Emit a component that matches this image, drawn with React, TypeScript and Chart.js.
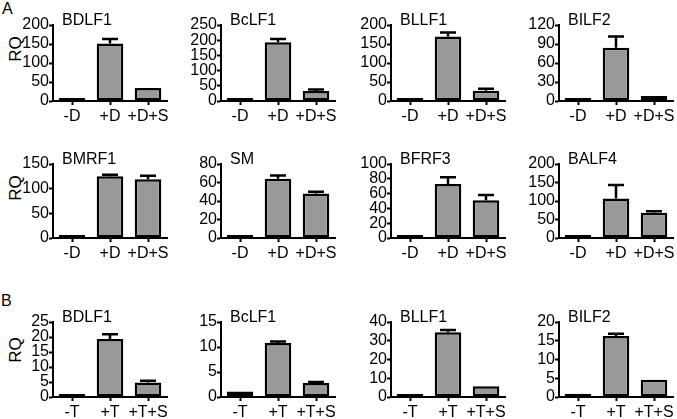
import React, { useEffect, useRef } from "react";
import { Chart, registerables } from "chart.js";

Chart.register(...registerables);

// ---------- data ----------
const conditionsD = ["-D", "+D", "+D+S"];
const conditionsT = ["-T", "+T", "+T+S"];

const titlesRow1 = ["BDLF1", "BcLF1", "BLLF1", "BILF2"];
const titlesRow2 = ["BMRF1", "SM", "BFRF3", "BALF4"];
const titlesRow3 = ["BDLF1", "BcLF1", "BLLF1", "BILF2"];

// Panel A, row 1
const bdlf1D = [1, 151, 34];
const bdlf1DErr = [0.3, 12, 2];
const bclf1D = [1.5, 193, 33];
const bclf1DErr = [0.5, 11, 5];
const bllf1D = [1, 170, 27];
const bllf1DErr = [0.3, 10, 5];
const bilf2D = [1, 84, 8];
const bilf2DErr = [0.3, 18, 1.5];

// Panel A, row 2
const bmrf1D = [2, 125, 119];
const bmrf1DErr = [0.5, 3, 7];
const smD = [1.5, 64, 48];
const smDErr = [0.5, 3.5, 2];
const bfrf3D = [0.8, 73, 51];
const bfrf3DErr = [0.3, 9, 7];
const balf4D = [2, 107, 68];
const balf4DErr = [0.5, 36, 4];

// Panel B
const bdlf1T = [1.0, 19.3, 4.8];
const bdlf1TErr = [0.2, 1.6, 0.6];
const bclf1T = [1.1, 10.8, 2.8];
const bclf1TErr = [0.1, 0.3, 0.2];
const bllf1T = [1.0, 34.5, 5.8];
const bllf1TErr = [0.2, 1.2, 0.3];
const bilf2T = [0.9, 16.3, 4.6];
const bilf2TErr = [0.2, 0.6, 0.2];

// y-axis tick ranges
const yMaxRow1 = [200, 250, 200, 120];
const yStepRow1 = [50, 50, 50, 30];
const yMaxRow2 = [150, 80, 100, 200];
const yStepRow2 = [50, 20, 20, 50];
const yMaxRow3 = [25, 15, 40, 20];
const yStepRow3 = [5, 5, 10, 5];

const valuesRow1 = [bdlf1D, bclf1D, bllf1D, bilf2D];
const errorsRow1 = [bdlf1DErr, bclf1DErr, bllf1DErr, bilf2DErr];
const valuesRow2 = [bmrf1D, smD, bfrf3D, balf4D];
const errorsRow2 = [bmrf1DErr, smDErr, bfrf3DErr, balf4DErr];
const valuesRow3 = [bdlf1T, bclf1T, bllf1T, bilf2T];
const errorsRow3 = [bdlf1TErr, bclf1TErr, bllf1TErr, bilf2TErr];

// ---------- layout / style ----------
const ROW_TOP = [25, 164, 322];
const ROW_ZERO = [101, 238, 397];
const COL_AXIS = [53, 221, 391, 559];
const PLOT_W = 114;
const PAD_TOP = 18;
const Y_W = 44;
const X_H = 26;
const RIGHT_PAD = 6;

const FONT_FAMILY = '"Liberation Sans", Arial, Helvetica, sans-serif';
const BAR_FILL = "#999999";

type PanelDef = {
  key: string;
  title: string;
  labels: string[];
  values: number[];
  errors: number[];
  max: number;
  step: number;
  row: number;
  col: number;
};

const panels: PanelDef[] = [];
[
  { titles: titlesRow1, vals: valuesRow1, errs: errorsRow1, maxs: yMaxRow1, steps: yStepRow1, labels: conditionsD },
  { titles: titlesRow2, vals: valuesRow2, errs: errorsRow2, maxs: yMaxRow2, steps: yStepRow2, labels: conditionsD },
  { titles: titlesRow3, vals: valuesRow3, errs: errorsRow3, maxs: yMaxRow3, steps: yStepRow3, labels: conditionsT },
].forEach((r, row) => {
  r.titles.forEach((t, col) => {
    panels.push({
      key: `${row}-${col}`,
      title: t,
      labels: r.labels,
      values: r.vals[col],
      errors: r.errs[col],
      max: r.maxs[col],
      step: r.steps[col],
      row,
      col,
    });
  });
});

const errorBarPlugin = {
  id: "errorBars",
  afterDatasetsDraw(chart: any, _args: any, opts: any) {
    const errs: number[] = opts.errors || [];
    const meta = chart.getDatasetMeta(0);
    const yScale = chart.scales.y;
    const data = chart.data.datasets[0].data as number[];
    const ctx = chart.ctx;
    ctx.save();
    ctx.strokeStyle = "#000";
    ctx.lineWidth = 2.5;
    meta.data.forEach((bar: any, i: number) => {
      const e = errs[i] || 0;
      const y0 = yScale.getPixelForValue(data[i]);
      const y1 = yScale.getPixelForValue(data[i] + e);
      if (y0 - y1 < 1) return;
      ctx.beginPath();
      ctx.moveTo(bar.x, y0);
      ctx.lineTo(bar.x, y1);
      ctx.moveTo(bar.x - 8, y1);
      ctx.lineTo(bar.x + 8, y1);
      ctx.stroke();
    });
    ctx.restore();
  },
};

const panelTitlePlugin = {
  id: "panelTitle",
  afterDraw(chart: any, _args: any, opts: any) {
    const { ctx, chartArea } = chart;
    ctx.save();
    ctx.font = `16px ${FONT_FAMILY}`;
    ctx.fillStyle = "#000";
    ctx.textBaseline = "middle";
    ctx.textAlign = "left";
    ctx.fillText(opts.text, chartArea.left + 9, chartArea.top - 4);
    ctx.restore();
  },
};

function Panel({ p }: { p: PanelDef }) {
  const ref = useRef<HTMLCanvasElement | null>(null);
  const top = ROW_TOP[p.row];
  const zero = ROW_ZERO[p.row];
  const axisX = COL_AXIS[p.col];
  const width = Y_W + PLOT_W + RIGHT_PAD;
  const height = PAD_TOP + (zero - top) + X_H;

  useEffect(() => {
    if (!ref.current) return;
    const chart = new Chart(ref.current, {
      type: "bar",
      data: {
        labels: p.labels,
        datasets: [
          {
            data: p.values,
            backgroundColor: BAR_FILL,
            borderColor: "#000",
            borderWidth: 2.5,
            borderSkipped: false,
            minBarLength: 3,
            barPercentage: 0.7,
            categoryPercentage: 1,
          },
        ],
      },
      options: {
        animation: false,
        responsive: false,
        maintainAspectRatio: false,
        events: [],
        layout: { padding: { top: PAD_TOP, right: RIGHT_PAD, left: 0, bottom: 0 } },
        plugins: {
          legend: { display: false },
          tooltip: { enabled: false },
          title: { display: false },
          errorBars: { errors: p.errors },
          panelTitle: { text: p.title },
        } as any,
        scales: {
          x: {
            type: "category",
            offset: true,
            afterFit: (s: any) => {
              s.height = X_H;
            },
            grid: {
              display: true,
              offset: false,
              drawOnChartArea: false,
              drawTicks: true,
              tickLength: 4,
              tickWidth: 2,
              tickColor: "#000",
              color: "#000",
            },
            border: { display: true, color: "#000", width: 2 },
            ticks: {
              color: "#000",
              padding: 2,
              maxRotation: 0,
              autoSkip: false,
              font: { family: FONT_FAMILY, size: 16 },
            },
          },
          y: {
            type: "linear",
            min: 0,
            max: p.max,
            afterFit: (s: any) => {
              s.width = Y_W;
            },
            grid: {
              display: true,
              drawOnChartArea: false,
              drawTicks: true,
              tickLength: 4,
              tickWidth: 2,
              tickColor: "#000",
              color: "#000",
            },
            border: { display: true, color: "#000", width: 2 },
            ticks: {
              stepSize: p.step,
              autoSkip: false,
              color: "#000",
              padding: 0,
              font: { family: FONT_FAMILY, size: 16 },
            },
          },
        },
      } as any,
      plugins: [errorBarPlugin, panelTitlePlugin],
    });
    return () => chart.destroy();
  }, [p]);

  return (
    <canvas
      ref={ref}
      width={width}
      height={height}
      style={{
        position: "absolute",
        left: axisX - Y_W,
        top: top - PAD_TOP,
        width,
        height,
      }}
    />
  );
}

const textStyle: React.CSSProperties = {
  position: "absolute",
  fontFamily: FONT_FAMILY,
  color: "#000",
  whiteSpace: "nowrap",
};

const RQ_CENTER_Y = [49, 188, 350];

export default function App() {
  return (
    <div
      style={{
        position: "absolute",
        left: 0,
        top: 0,
        width: 677,
        height: 419,
        background: "#fff",
        overflow: "hidden",
      }}
    >
      <div style={{ ...textStyle, left: 2, top: 0, fontSize: 16, lineHeight: "18px" }}>A</div>
      <div style={{ ...textStyle, left: 1, top: 292, fontSize: 16, lineHeight: "18px" }}>B</div>
      {RQ_CENTER_Y.map((cy, i) => (
        <div
          key={"rq" + i}
          style={{
            ...textStyle,
            left: 15,
            top: cy,
            fontSize: 17,
            lineHeight: 1,
            transform: "translate(-50%, -50%) rotate(-90deg)",
          }}
        >
          RQ
        </div>
      ))}
      {panels.map((p) => (
        <Panel key={p.key} p={p} />
      ))}
    </div>
  );
}
